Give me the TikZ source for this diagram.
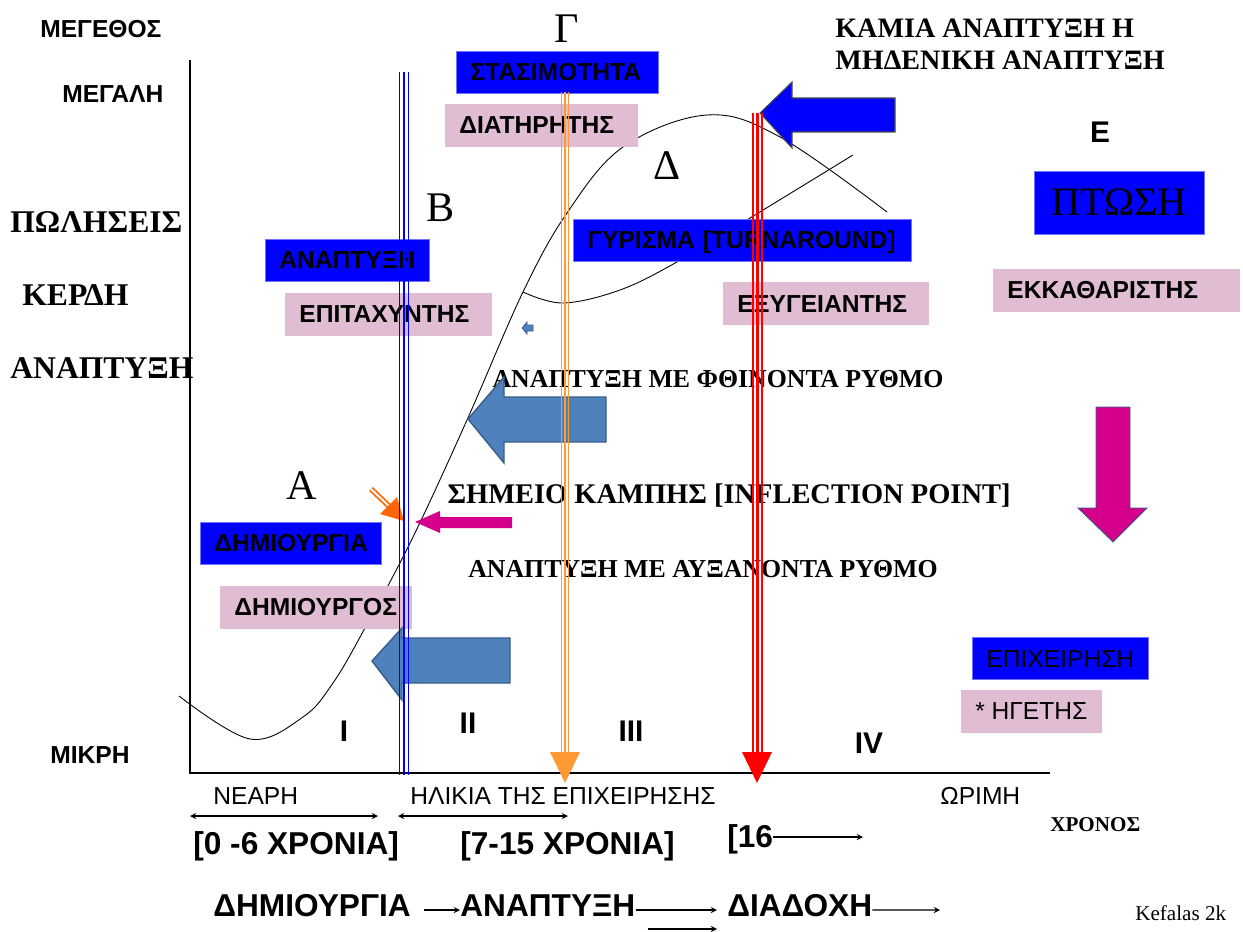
\documentclass[tikz,border=0pt]{standalone}
\usepackage{fontspec}
\setmainfont{Liberation Serif}
\setsansfont{Liberation Sans}
\definecolor{boxblue}{RGB}{0,0,255}
\definecolor{boxpink}{RGB}{224,189,210}
\definecolor{steel}{RGB}{79,129,189}
\definecolor{steeledge}{RGB}{56,93,138}
\definecolor{mag}{RGB}{212,0,140}
\definecolor{orline}{RGB}{255,153,51}
\definecolor{orsmall}{RGB}{255,102,0}
\newcommand{\fsz}[1]{\fontsize{#1}{#1}\selectfont}
\tikzset{
 sanslbl/.style={font=\sffamily\bfseries\fsz{#1}, inner sep=0pt},
 sanslbl/.default=14,
 plainsans/.style={font=\sffamily\fsz{#1}, inner sep=0pt},
 plainsans/.default=14,
 seriflbl/.style={font=\rmfamily\bfseries\fsz{#1}, inner sep=0pt},
 seriflbl/.default=18,
 bigletter/.style={font=\rmfamily\fsz{24}, inner sep=0pt},
 bluebox/.style={fill=boxblue, draw=boxblue!55!white, line width=0.4pt,
   font=\sffamily\bfseries\fsz{14}, minimum height=0.84cm,
   text height=10pt, text depth=0pt,
   inner xsep=0.28cm, inner ysep=0pt, anchor=west, align=left},
 pinkbox/.style={bluebox, fill=boxpink, draw=boxpink},
}
\begin{document}
\begin{tikzpicture}[x=0.02cm,y=-0.02cm,>=stealth]
\useasboundingbox (0,0) rectangle (1243,932);

% axes
\draw[line width=0.8pt] (190,60) -- (190,773) -- (1050,773);

% life cycle curve and the turnaround branch
\draw[line width=0.5pt] plot[smooth,tension=0.6] coordinates {(179,696) (250,739) (303,717) (333,683) (365,628) (413,537) (467,420) (523,292) (567,213) (623,147) (707,115) (780,137) (887,212)};
\draw[line width=0.5pt] plot[smooth,tension=0.6] coordinates {(523,292) (563,303) (620,290) (677,262) (750,218) (853,155)};

% left labels
\node[sanslbl, anchor=west] (size) at (40,29) {ΜΕΓΕΘΟΣ};
\node[sanslbl, anchor=west] (big) at (62,94) {ΜΕΓΑΛΗ};
\node[seriflbl, anchor=west] (sales) at (10,222) {ΠΩΛΗΣΕΙΣ};
\node[seriflbl, anchor=west] (profit) at (22,295) {ΚΕΡΔΗ};
\node[seriflbl, anchor=west] (growth) at (10,368) {ΑΝΑΠΤΥΞΗ};
\node[sanslbl, anchor=west] (small) at (50,755) {ΜΙΚΡΗ};

% stage letters
\node[bigletter] (stA) at (302,486) {Α};
\node[bigletter] (stB) at (441,208) {Β};
\node[bigletter] (stG) at (567,29) {Γ};
\node[bigletter] (stD) at (667,166) {Δ};
\node[sanslbl=17] (stE) at (1100,132) {Ε};

\node[font=\rmfamily\bfseries\fontsize{16}{18.2}\selectfont, inner sep=0pt, anchor=north west, align=left] (nogrowth) at (835,19) {ΚΑΜΙΑ ΑΝΑΠΤΥΞΗ Η\\ΜΗΔΕΝΙΚΗ ΑΝΑΠΤΥΞΗ};

% boxes
\node[bluebox, text width=3.48cm] (stasis) at (456,72) {ΣΤΑΣΙΜΟΤΗΤΑ};
\node[pinkbox, text width=3.28cm] (keeper) at (445,125) {ΔΙΑΤΗΡΗΤΗΣ};
\node[bluebox, text width=6.2cm] (turn) at (573,240) {ΓΥΡΙΣΜΑ [TURNAROUND]};
\node[bluebox, text width=2.72cm] (grbox) at (265,260) {ΑΝΑΠΤΥΞΗ};
\node[pinkbox, text width=3.56cm] (accel) at (285,314) {ΕΠΙΤΑΧΥΝΤΗΣ};
\node[pinkbox, text width=3.54cm] (healer) at (723,303.5) {ΕΞΥΓΕΙΑΝΤΗΣ};
\node[pinkbox, text width=4.36cm] (liquid) at (993,290) {ΕΚΚΑΘΑΡΙΣΤΗΣ};
\node[bluebox, font=\rmfamily\fsz{23}, text height=15.2pt, minimum width=3.4cm, minimum height=1.26cm, inner xsep=0pt, anchor=center] (fall) at (1119,202.5) {ΠΤΩΣΗ};
\node[bluebox, text width=3.06cm] (create) at (200,543) {ΔΗΜΙΟΥΡΓΙΑ};
\node[pinkbox, text width=3.26cm] (creator) at (220,607) {ΔΗΜΙΟΥΡΓΟΣ};
\node[bluebox, font=\sffamily\fsz{14}, minimum width=3.52cm, inner xsep=0pt] (firm) at (972,658.5) {ΕΠΙΧΕΙΡΗΣΗ};
\node[pinkbox, font=\sffamily\fsz{14}, minimum width=2.8cm, inner xsep=0pt] (leader) at (961,711) {* ΗΓΕΤΗΣ};

% growth phase texts
\node[seriflbl=14.7] (slow) at (718,379) {ΑΝΑΠΤΥΞΗ ΜΕ ΦΘΙΝΟΝΤΑ ΡΥΘΜΟ};
\node[seriflbl=16.2, anchor=base] (inflect) at (729,503) {ΣΗΜΕΙΟ ΚΑΜΠΗΣ [INFLECTION POINT]};
\node[seriflbl=14.7] (fast) at (703,569) {ΑΝΑΠΤΥΞΗ ΜΕ ΑΥΞΑΝΟΝΤΑ ΡΥΘΜΟ};

% block arrows
\draw[fill=boxblue, draw=black!70, line width=0.6pt] (760,113) -- (792,82) -- (792,98) -- (895,98) -- (895,132) -- (792,132) -- (792,148) -- cycle;
\draw[fill=steel, draw=steeledge, line width=0.8pt] (468,419) -- (504,377) -- (504,397) -- (606,397) -- (606,442) -- (504,442) -- (504,463) -- cycle;
\draw[fill=steel, draw=steeledge, line width=0.8pt] (372,661) -- (402,628) -- (402,638) -- (510,638) -- (510,683) -- (402,683) -- (402,700) -- cycle;
\draw[fill=steel, draw=steeledge, line width=0.4pt] (522,328) -- (527,322) -- (527,325) -- (533,325) -- (533,331) -- (527,331) -- (527,334) -- cycle;
\fill[mag] (415,522) -- (440,511) -- (440,517) -- (512,517) -- (512,528) -- (440,528) -- (440,533) -- cycle;
\draw[fill=mag, draw=steeledge, line width=0.5pt] (1096,407) -- (1130,407) -- (1130,508) -- (1147,508) -- (1113,542) -- (1078,508) -- (1096,508) -- cycle;
\draw[orsmall, line width=1pt, double=white, double distance=1.1pt] (371,489) -- (391,508);
\fill[orsmall] (404,521) -- (380,514) -- (397,497) -- cycle;

% phases
\node[sanslbl=17] (ph1) at (344,731) {I};
\node[sanslbl=17] (ph2) at (468,723) {II};
\node[sanslbl=17] (ph3) at (631,731) {III};
\node[sanslbl=17] (ph4) at (869,743) {IV};

% vertical marker lines
\foreach \x/\w in {399.5/1.0, 404/1.3, 408.5/1.0}
  \draw[blue, line width=\w pt] (\x,72) -- (\x,775);
\foreach \x/\w in {561.5/1.0, 565/1.2, 568.5/1.0}
  \draw[orline, line width=\w pt] (\x,92) -- (\x,755);
\foreach \x/\w in {753/1.0, 757.5/1.4, 762/1.0}
  \draw[red, line width=\w pt] (\x,113) -- (\x,755);
\fill[orline] (550,752) -- (580,752) -- (565,783) -- cycle;
\fill[red] (742,752) -- (772,752) -- (757,783) -- cycle;

% age axis
\node[plainsans, anchor=west] (young) at (213,796) {ΝΕΑΡΗ};
\node[plainsans, anchor=west] (age) at (410,796) {ΗΛΙΚΙΑ ΤΗΣ ΕΠΙΧΕΙΡΗΣΗΣ};
\node[plainsans, anchor=west] (mature) at (940,796) {ΩΡΙΜΗ};
\coordinate (s0) at (190,816);
\coordinate (s1) at (378,816);
\coordinate (s2) at (398,816);
\coordinate (s3) at (568,816);
\draw[<->, line width=0.6pt] (s0) -- (s1);
\draw[<->, line width=0.6pt] (s2) -- (s3);
\node[sanslbl=18, anchor=base west] (yr1) at (193,854) {[0 -6 ΧΡΟΝΙΑ]};
\node[sanslbl=18, anchor=base west] (yr2) at (460,854) {[7-15 ΧΡΟΝΙΑ]};
\node[sanslbl=18, anchor=base west] (yr3) at (727,847) {[16};
\coordinate (yr3end) at (863,837);
\draw[->, line width=0.6pt] (yr3.east |- yr3end) -- (yr3end);
\node[seriflbl=12, anchor=west] (time) at (1050,825) {ΧΡΟΝΟΣ};

% succession line
\node[sanslbl=18, anchor=west] (crea) at (213,906) {ΔΗΜΙΟΥΡΓΙΑ};
\node[sanslbl=18, anchor=west] (grow) at (460,906) {ΑΝΑΠΤΥΞΗ};
\node[sanslbl=18, anchor=west] (succ) at (727,906) {ΔΙΑΔΟΧΗ};
\coordinate (succend) at (940,910);
\draw[->, line width=0.6pt] ([xshift=0.26cm,yshift=-0.08cm]crea.east) -- ([yshift=-0.08cm]grow.west);
\draw[->, line width=0.6pt] ([yshift=-0.08cm]grow.east) -- ([xshift=-0.2cm,yshift=-0.08cm]succ.west);
\draw[->, line width=0.6pt] ([yshift=-0.08cm]succ.east) -- (succend);
\draw[->, line width=0.6pt] ([xshift=0.24cm,yshift=-0.46cm]grow.east) -- ([xshift=-0.2cm,yshift=-0.46cm]succ.west);
\node[font=\rmfamily\fsz{12}, inner sep=0pt, anchor=base west] (sign) at (1135,920) {Kefalas 2k};
\end{tikzpicture}
\end{document}
